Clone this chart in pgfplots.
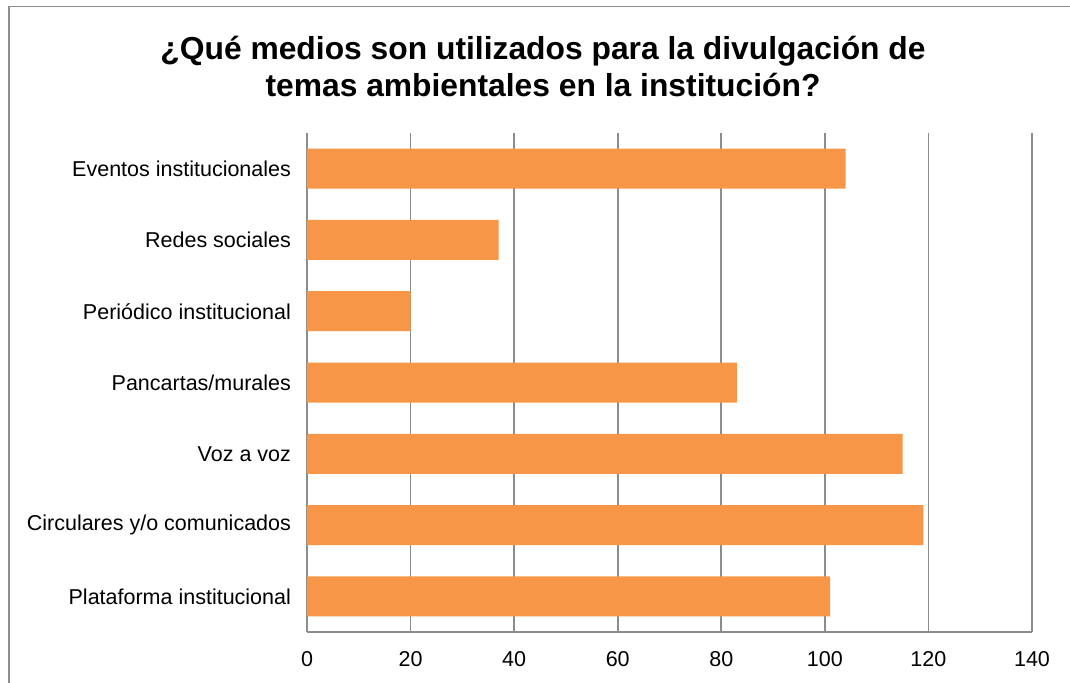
\documentclass[border=0pt]{standalone}
\usepackage{pgfplots}
\pgfplotsset{compat=1.18}
\usepackage{fontspec}
\setmainfont{Liberation Sans}
\definecolor{barorange}{HTML}{F79646}
\definecolor{gridgray}{HTML}{8C8C8C}
\begin{document}
\begin{tikzpicture}
  % 1 px of the reference = 0.5pt
  \useasboundingbox (0,0) rectangle (535pt,-341pt);
  \draw[gridgray, line width=0.8pt] (4.5pt,-3.2pt) rectangle (560pt,-360pt);
  \node[align=center, font=\fontsize{15.9}{18.5}\selectfont\bfseries] at (271.5pt,-33pt)
    {¿Qué medios son utilizados para la divulgación de\\temas ambientales en la institución?};
  \begin{axis}[
    at={(153.5pt,-316pt)}, anchor=south west,
    scale only axis,
    width=362.5pt, height=249.5pt,
    xbar, bar width=20pt,
    xmin=0, xmax=140,
    ymin=-0.5, ymax=6.5,
    xtick={0,20,...,140},
    ytick=data,
    yticklabels={Plataforma institucional, Circulares y/o comunicados, Voz a voz,
      Pancartas/murales, Periódico institucional, Redes sociales, Eventos institucionales},
    axis lines*=left,
    axis line style={gridgray, line width=0.8pt},
    xmajorgrids,
    grid style={gridgray, line width=0.8pt},
    major tick length=0pt,
    tick label style={font=\fontsize{10.75}{12}\selectfont},
    /pgf/number format/assume math mode=true,
    xticklabel style={yshift=-6pt},
    yticklabel style={xshift=-4.5pt},
  ]
    \addplot[draw=none, fill=barorange] coordinates {
      (101,0) (119,1) (115,2) (83,3) (20,4) (37,5) (104,6)
    };
  \end{axis}
\end{tikzpicture}
\end{document}
